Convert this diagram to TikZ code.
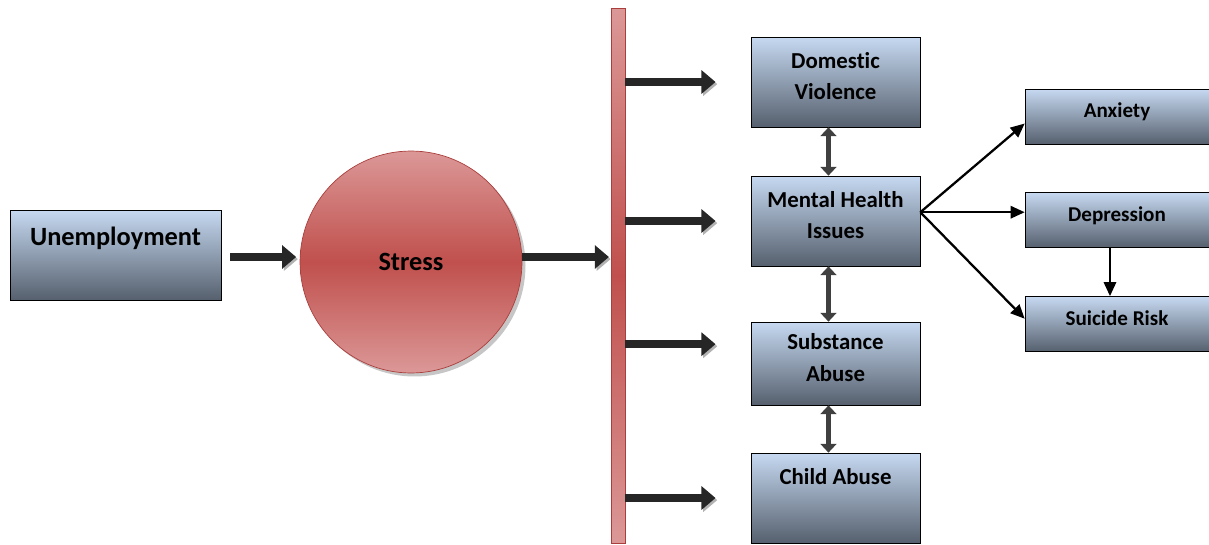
\documentclass[tikz,border=0pt]{standalone}
\usepackage{fontspec}
\setmainfont{Carlito}[Ligatures=NoCommon]
\usetikzlibrary{arrows.meta,shadows}

\definecolor{boxtop}{RGB}{198,217,241}
\definecolor{boxbot}{RGB}{86,96,110}
\definecolor{redmid}{RGB}{192,80,77}
\definecolor{redlight}{RGB}{219,152,151}
\definecolor{redline}{RGB}{170,62,60}

\tikzset{
  box/.style={draw=black, thin, top color=boxtop, bottom color=boxbot, align=center,
    text depth=7pt, font=\fontsize{13}{18}\selectfont\bfseries},
  smallbox/.style={box, minimum width=3.68cm, minimum height=1.1cm,
    font=\fontsize{12}{16}\selectfont\bfseries},
  fatarrow/.style={line width=4.2pt, draw=black!85, -{Triangle[length=8pt,width=13pt]},
    preaction={draw=black!30, transform canvas={shift={(1pt,-1.2pt)}}}},
  dblarrow/.style={line width=2.6pt, draw=black!75,
    {Triangle[length=5pt,width=9pt]}-{Triangle[length=5pt,width=9pt]}},
  thinarrow/.style={line width=1.3pt, -{Triangle[length=8pt,width=7pt]}}
}

\begin{document}
\begin{tikzpicture}[x=0.02cm,y=-0.02cm]
\useasboundingbox (0,0) rectangle (1209,544);

\node[box, minimum width=4.22cm, minimum height=1.8cm, text depth=2pt, font=\fontsize{15}{19}\selectfont\bfseries] (unemp) at (115.5,255) {Unemployment\\ {}}; % left
\node[circle, draw=redline, top color=redlight, bottom color=redlight, middle color=redmid,
  minimum size=4.44cm, font=\fontsize{15}{19}\selectfont\bfseries,
  drop shadow={shadow xshift=2pt, shadow yshift=-2pt, opacity=0.45}] (stress) at (411,262) {Stress}; % circle
\node[draw=redline, top color=redlight, bottom color=redlight, middle color=redmid,
  minimum width=0.28cm, minimum height=10.7cm, inner sep=0pt] (bar) at (618,275.5) {}; % bar

\node[box, minimum width=3.38cm, minimum height=1.8cm] (dv) at (835.5,82) {Domestic\\Violence};
\node[box, minimum width=3.38cm, minimum height=1.8cm] (mh) at (835.5,221) {Mental Health\\Issues};
\node[box, minimum width=3.38cm, minimum height=1.66cm] (sa) at (835.5,363.5) {Substance\\Abuse};
\node[box, minimum width=3.38cm, minimum height=1.8cm] (ca) at (835.5,498) {Child Abuse\\ {}};

\node[smallbox] (anx) at (1117,116.5) {Anxiety};
\node[smallbox] (dep) at (1117,220) {Depression};
\node[smallbox] (sr) at (1117,324) {Suicide Risk};

\coordinate (saIn) at ([yshift=11pt]sa.west);
\coordinate (hub) at ([yshift=5pt]mh.east);

\draw[fatarrow, shorten <=5pt, shorten >=2pt] (unemp.east |- 0,257) -- (stress.west |- 0,257);
\draw[fatarrow, shorten >=1pt] (stress.east |- 0,257) -- (bar.west |- 0,257);

\draw[fatarrow, shorten >=20pt] (bar.east |- dv.west) -- (dv.west);
\draw[fatarrow, shorten >=20pt] (bar.east |- mh.west) -- (mh.west);
\draw[fatarrow, shorten >=20pt] (bar.east |- saIn) -- (saIn);
\draw[fatarrow, shorten >=20pt] (bar.east |- ca.west) -- (ca.west);

\draw[dblarrow] ([xshift=-4pt]dv.south) -- ([xshift=-4pt]mh.north);
\draw[dblarrow] ([xshift=-4pt]mh.south) -- ([xshift=-4pt]sa.north);
\draw[dblarrow] ([xshift=-4pt]sa.south) -- ([xshift=-4pt]ca.north);

\draw[thinarrow] (hub) -- ([yshift=-4pt]anx.west);
\draw[thinarrow] (hub) -- (hub -| dep.west);
\draw[thinarrow] (hub) -- ([yshift=3pt]sr.west);
\draw[thinarrow] ([xshift=-4pt]dep.south) -- ([xshift=-4pt]sr.north);

\end{tikzpicture}
\end{document}
